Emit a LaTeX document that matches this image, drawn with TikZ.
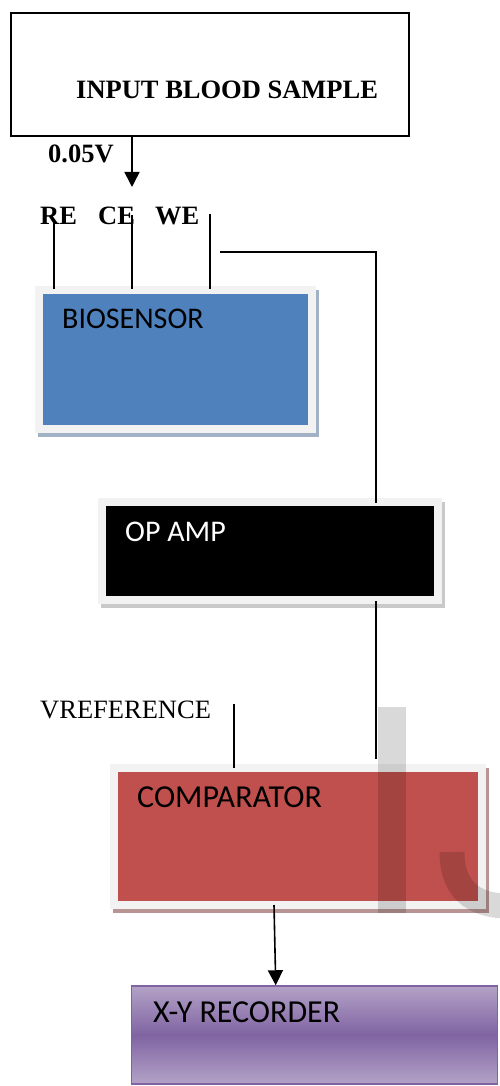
\documentclass[tikz,border=0pt]{standalone}
\usepackage{fontspec}
\setmainfont{Liberation Serif}
\newfontfamily\boxfont{Carlito}
\usepackage{tikz}
\usepackage{xcolor}
\usetikzlibrary{arrows.meta,positioning,calc}
\definecolor{ink}{HTML}{000000}
\definecolor{framegray}{HTML}{F2F2F2}
\definecolor{sensorblue}{HTML}{4F81BD}
\definecolor{sensorshadow}{HTML}{A3B1C6}
\definecolor{ampshadow}{HTML}{C9C9C9}
\definecolor{compred}{HTML}{C0504D}
\definecolor{compshadow}{HTML}{B89593}
\definecolor{reclight}{HTML}{B3A2C7}
\definecolor{recdark}{HTML}{8064A2}
\tikzset{
  seriflabel/.style={font=\fontsize{26.5}{30}\selectfont,inner sep=0pt,anchor=base west},
  boldlabel/.style={seriflabel,font=\fontsize{26.5}{30}\selectfont\bfseries},
  boxlabel/.style={font=\boxfont\fontsize{30}{34}\selectfont,inner sep=0pt,anchor=base west},
  widelabel/.style={boxlabel,font=\boxfont\fontsize{32}{36}\selectfont},
  block/.style={rectangle,draw=framegray,line width=8pt,inner sep=0pt},
  sensorbox/.style={block,fill=sensorblue,
                    preaction={draw=sensorshadow,fill=sensorshadow,
                               transform canvas={xshift=3pt,yshift=-4pt}}},
  ampbox/.style={block,fill=ink,
                 preaction={draw=ampshadow,fill=ampshadow,
                            transform canvas={xshift=3pt,yshift=-4pt}}},
  compbox/.style={block,fill=compred,
                  preaction={draw=compshadow,fill=compshadow,
                             transform canvas={xshift=3pt,yshift=-4pt}}},
  recbox/.style={rectangle,draw=recdark,line width=1.5pt,inner sep=0pt,
                 top color=reclight,bottom color=reclight,middle color=recdark},
  wire/.style={draw=ink,line width=1.6pt},
  arrowwire/.style={wire,-{Triangle[length=15pt,width=15pt]}},
  watermark/.style={black,opacity=0.15}
}
\begin{document}
\begin{tikzpicture}[x=1pt,y=-1pt]
    \path[use as bounding box] (0,0) rectangle (499,1086);
    \node[draw=ink,line width=2.4pt,minimum width=397.6pt,minimum height=122.6pt,
          inner sep=0pt] (input) at (210,74.5) {};
    \node[boldlabel] (inputtext) at (76,99) {INPUT BLOOD SAMPLE};
    \node[boldlabel] (volt) at (48,163) {0.05V};
    \node[boldlabel] (re) at (40,224) {RE};
    \node[boldlabel] (ce) at (98,224) {CE};
    \node[boldlabel] (we) at (155,224) {WE};

    \node[sensorbox,minimum width=273pt,minimum height=139pt] (bio) at (175.5,359.5) {};
    \node[boxlabel] (biotext) at (62,328) {BIOSENSOR};
    \node[ampbox,minimum width=336pt,minimum height=98pt] (amp) at (270,551) {};
    \node[boxlabel,text=white] (amptext) at (125,541) {OP AMP};
    \node[seriflabel] (vref) at (40,718) {VREFERENCE};
    \node[compbox,minimum width=368pt,minimum height=137pt] (comp) at (298,836.5) {};
    \node[widelabel] (comptext) at (137,807) {COMPARATOR};
    \node[recbox,minimum width=366pt,minimum height=98pt] (rec) at (314.5,1035) {};
    \node[widelabel] (rectext) at (153,1022) {X-Y RECORDER};

    \coordinate (drop) at (132,187);
    \coordinate (re pin) at (54,220);
    \coordinate (ce pin) at (132,215);
    \coordinate (we pin) at (210,214);
    \coordinate (we out) at (220,252);
    \coordinate (amp out) at (376,601);
    \coordinate (vref pin) at (234,704);
    \coordinate (comp out) at (274,905);

    \draw[arrowwire] (drop |- input.south) -- (drop);
    \draw[wire] (re pin) -- ($(re pin |- bio.north)+(0,3)$);
    \draw[wire] (ce pin) -- ($(ce pin |- bio.north)+(0,3)$);
    \draw[wire] (we pin) -- ($(we pin |- bio.north)+(0,3)$);
    \draw[wire] (we out) -| ($(amp.north)+(106,5)$);
    \draw[wire] (amp out) -- ($(amp out |- comp.north)+(0,-5)$);
    \draw[wire] (vref pin) -- ($(vref pin |- comp.north)+(0,4)$);
    \draw[arrowwire] (comp out) -- ($(rec.north west)+(145,0)$);

    \fill[watermark] (378,707) rectangle (406,913);
    \draw[watermark,line width=25pt] (452,852) .. controls (452,888) and (472,906) .. (508,906);
  \end{tikzpicture}
\end{document}
